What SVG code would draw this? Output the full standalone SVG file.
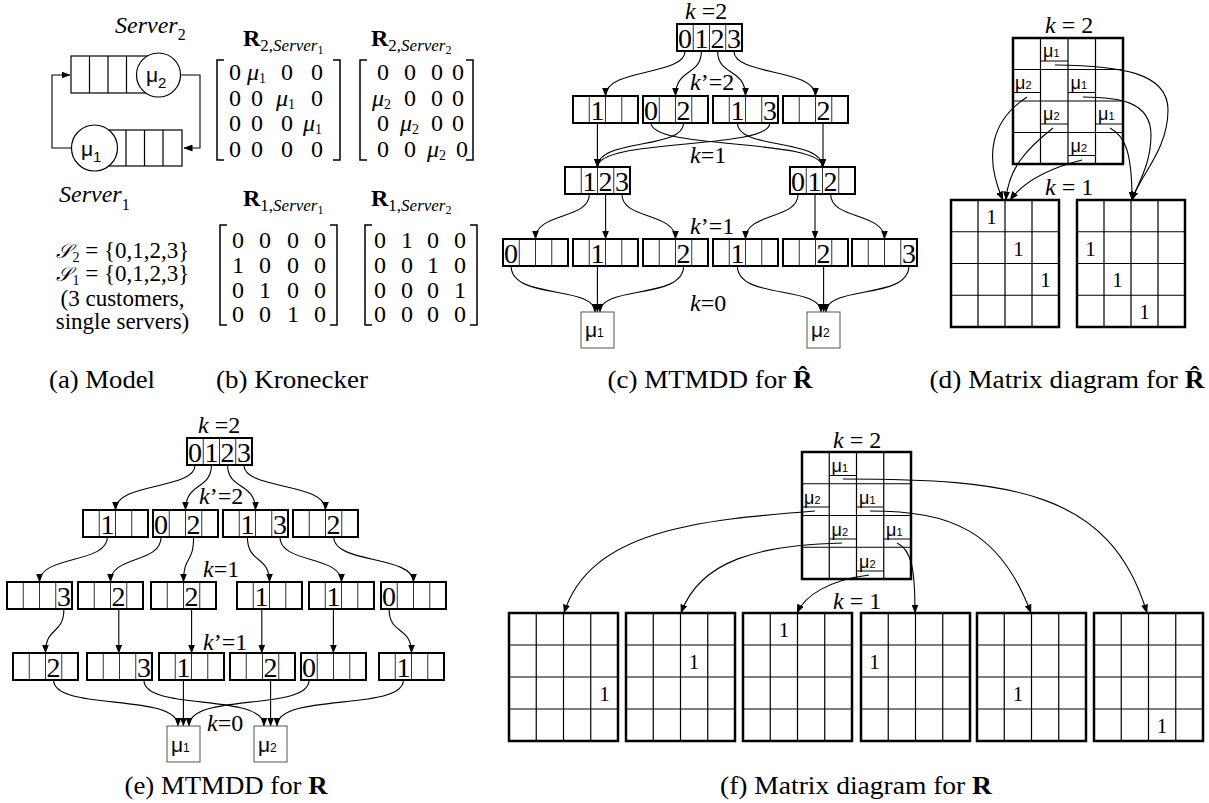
<svg xmlns="http://www.w3.org/2000/svg" width="1209" height="803" viewBox="0 0 1209 803">
<defs>
<marker id="ah" markerWidth="9" markerHeight="7" refX="8.5" refY="3.5" orient="auto" markerUnits="userSpaceOnUse"><path d="M0,0 L9,3.5 L0,7 z" fill="#000"/></marker>
<style>
.t{font-family:"Liberation Serif",serif;fill:#000}
.i{font-style:italic}
.b{font-weight:bold}
.nd{fill:#fff;stroke:#000;stroke-width:2}
.dv{stroke:#333;stroke-width:1}
.dg{font-family:"Liberation Serif",serif;font-size:28px;text-anchor:middle}
.e{fill:none;stroke:#000;stroke-width:1.1;marker-end:url(#ah)}
.ln{fill:none;stroke:#000;stroke-width:1.1}
.lf{fill:#fff;stroke:#555;stroke-width:1}
.mu{font-family:"Liberation Sans",sans-serif;font-size:21px}
.mus{font-size:12px}
.mc{font-family:"Liberation Sans",sans-serif;font-size:18px}
.mcs{font-size:11px}
.kl{font-family:"Liberation Serif",serif;font-size:24px}
.mx{fill:none;stroke:#000;stroke-width:2.5}
.mg{stroke:#000;stroke-width:1.2}
.ul{stroke:#000;stroke-width:1}
.one{font-family:"Liberation Serif",serif;font-size:21px;text-anchor:middle}
.cap{font-family:"Liberation Serif",serif;font-size:25px;text-anchor:middle}
.br{fill:none;stroke:#000;stroke-width:1.5}
.me{font-family:"Liberation Serif",serif;font-size:24px;text-anchor:middle}
.ms{font-family:"Liberation Serif",serif;font-size:24px}
.q{fill:#fff;stroke:#000;stroke-width:1.2}
</style>
</defs>
<rect width="1209" height="803" fill="#fff"/>

<!-- (a) Model -->
<g id="a-server2-label"><text class="t i" x="115" y="33" font-size="24">Server<tspan font-style="normal" font-size="16" dy="7">2</tspan></text></g>
<g id="a-queue2">
<rect class="q" x="71" y="56" width="80" height="37"/>
<path class="q" d="M89.5,56V93M108,56V93M126.5,56V93"/>
<circle class="q" cx="158.5" cy="75" r="22"/>
<text class="mu" x="146" y="82" font-size="25">μ<tspan font-size="15" dy="6">2</tspan></text>
</g>
<g id="a-queue1">
<rect class="q" x="102" y="130" width="80" height="36"/>
<path class="q" d="M126,130V166M144.5,130V166M163,130V166"/>
<circle class="q" cx="94.5" cy="148" r="23"/>
<text class="mu" x="81" y="156" font-size="25">μ<tspan font-size="15" dy="6">1</tspan></text>
</g>
<g id="a-server1-label"><text class="t i" x="59" y="202" font-size="24">Server<tspan font-style="normal" font-size="16" dy="8">1</tspan></text></g>
<g id="a-connectors">
<path class="ln" d="M180.5,75H200V148H184" marker-end="url(#ah)"/>
<path class="ln" d="M71.5,148H52V75H70" marker-end="url(#ah)"/>
</g>
<g id="a-text">
<text class="t" x="122.5" y="258" font-size="23" text-anchor="middle"><tspan font-family="DejaVu Serif,serif" font-style="italic" font-size="20">𝒮</tspan><tspan font-size="14" dx="2" dy="4">2</tspan><tspan dy="-4"> = {0,1,2,3}</tspan></text>
<text class="t" x="122.5" y="281" font-size="23" text-anchor="middle"><tspan font-family="DejaVu Serif,serif" font-style="italic" font-size="20">𝒮</tspan><tspan font-size="14" dx="2" dy="4">1</tspan><tspan dy="-4"> = {0,1,2,3}</tspan></text>
<text class="t" x="122.5" y="306" font-size="23" text-anchor="middle">(3 customers,</text>
<text class="t" x="122.5" y="329" font-size="23" text-anchor="middle">single servers)</text>
</g>

<!-- (b) Kronecker -->
<g id="b-labels">
<text class="t" x="243" y="46"><tspan class="b" font-size="24">R</tspan><tspan font-size="17" dy="5">2,</tspan><tspan class="i" font-size="17">Server</tspan><tspan font-size="12" dy="3">1</tspan></text>
<text class="t" x="371" y="46"><tspan class="b" font-size="24">R</tspan><tspan font-size="17" dy="5">2,</tspan><tspan class="i" font-size="17">Server</tspan><tspan font-size="12" dy="3">2</tspan></text>
<text class="t" x="243" y="206"><tspan class="b" font-size="24">R</tspan><tspan font-size="17" dy="5">1,</tspan><tspan class="i" font-size="17">Server</tspan><tspan font-size="12" dy="3">1</tspan></text>
<text class="t" x="371" y="206"><tspan class="b" font-size="24">R</tspan><tspan font-size="17" dy="5">1,</tspan><tspan class="i" font-size="17">Server</tspan><tspan font-size="12" dy="3">2</tspan></text>
</g>
<g id="b-matrix-R2-S1">
<path class="br" d="M224,60H217V160H224M333,60H340V160H333"/>
<text class="me" y="80"><tspan x="235">0</tspan><tspan x="287">0</tspan><tspan x="317">0</tspan></text>
<text class="ms" x="247" y="80"><tspan class="i">μ</tspan><tspan font-size="14" dy="3">1</tspan></text>
<text class="me" y="105.5"><tspan x="235">0</tspan><tspan x="257">0</tspan><tspan x="317">0</tspan></text>
<text class="ms" x="276" y="105.5"><tspan class="i">μ</tspan><tspan font-size="14" dy="3">1</tspan></text>
<text class="me" y="131"><tspan x="235">0</tspan><tspan x="257">0</tspan><tspan x="287">0</tspan></text>
<text class="ms" x="303" y="131"><tspan class="i">μ</tspan><tspan font-size="14" dy="3">1</tspan></text>
<text class="me" y="156.5"><tspan x="235">0</tspan><tspan x="257">0</tspan><tspan x="287">0</tspan><tspan x="317">0</tspan></text>
</g>
<g id="b-matrix-R2-S2">
<path class="br" d="M367,60H360V160H367M466,60H473V160H466"/>
<text class="me" y="80"><tspan x="383">0</tspan><tspan x="410">0</tspan><tspan x="437">0</tspan><tspan x="458">0</tspan></text>
<text class="ms" x="372" y="105.5"><tspan class="i">μ</tspan><tspan font-size="14" dy="3">2</tspan></text>
<text class="me" y="105.5"><tspan x="410">0</tspan><tspan x="437">0</tspan><tspan x="458">0</tspan></text>
<text class="me" y="131"><tspan x="383">0</tspan><tspan x="437">0</tspan><tspan x="458">0</tspan></text>
<text class="ms" x="400" y="131"><tspan class="i">μ</tspan><tspan font-size="14" dy="3">2</tspan></text>
<text class="me" y="156.5"><tspan x="383">0</tspan><tspan x="410">0</tspan><tspan x="462">0</tspan></text>
<text class="ms" x="427" y="156.5"><tspan class="i">μ</tspan><tspan font-size="14" dy="3">2</tspan></text>
</g>
<g id="b-matrix-R1-S1">
<path class="br" d="M227,225H220V325H227M330,225H337V325H330"/>
<text class="me" y="248"><tspan x="238">0</tspan><tspan x="265">0</tspan><tspan x="293">0</tspan><tspan x="320">0</tspan></text>
<text class="me" y="273"><tspan x="238">1</tspan><tspan x="265">0</tspan><tspan x="293">0</tspan><tspan x="320">0</tspan></text>
<text class="me" y="297.5"><tspan x="238">0</tspan><tspan x="265">1</tspan><tspan x="293">0</tspan><tspan x="320">0</tspan></text>
<text class="me" y="322"><tspan x="238">0</tspan><tspan x="265">0</tspan><tspan x="293">1</tspan><tspan x="320">0</tspan></text>
</g>
<g id="b-matrix-R1-S2">
<path class="br" d="M372,225H365V325H372M470,225H477V325H470"/>
<text class="me" y="248"><tspan x="380">0</tspan><tspan x="407">1</tspan><tspan x="433">0</tspan><tspan x="460">0</tspan></text>
<text class="me" y="273"><tspan x="380">0</tspan><tspan x="407">0</tspan><tspan x="433">1</tspan><tspan x="460">0</tspan></text>
<text class="me" y="297.5"><tspan x="380">0</tspan><tspan x="407">0</tspan><tspan x="433">0</tspan><tspan x="460">1</tspan></text>
<text class="me" y="322"><tspan x="380">0</tspan><tspan x="407">0</tspan><tspan x="433">0</tspan><tspan x="460">0</tspan></text>
</g>

<!-- (c) MTMDD for R-hat -->
<g id="c-connectors">
<path class="e" d="M685.1,51C685.1,76 605.5,68 605.5,96"/>
<path class="e" d="M701.4,51C701.4,76 675.5,68 675.5,96"/>
<path class="e" d="M717.6,51C717.6,76 745.5,68 745.5,96"/>
<path class="e" d="M733.9,51C733.9,76 815.5,68 815.5,96"/>
<path class="e" d="M597.4,123L597.4,167"/>
<path class="e" d="M651.1,123C651.1,150 822.5,138 822.5,167"/>
<path class="e" d="M683.6,123C683.6,150 597.5,138 597.5,167"/>
<path class="e" d="M737.4,123C737.4,150 822.5,138 822.5,167"/>
<path class="e" d="M769.9,123C769.9,150 597.5,138 597.5,167"/>
<path class="e" d="M823,123L823,167"/>
<path class="e" d="M589.4,194C589.4,220 535.5,212 535.5,239"/>
<path class="e" d="M605.6,194L605.6,239"/>
<path class="e" d="M621.9,194C621.9,220 675.5,212 675.5,239"/>
<path class="e" d="M798.1,194C798.1,220 745.5,212 745.5,239"/>
<path class="e" d="M815,194L815,239"/>
<path class="e" d="M830.6,194C830.6,220 884.5,212 884.5,239"/>
<path class="e" d="M511.1,266C511.1,300 595,285 595,312"/>
<path class="e" d="M597.4,266L597.4,312"/>
<path class="e" d="M683.6,266C683.6,300 600,285 600,312"/>
<path class="e" d="M737.4,266C737.4,300 821,285 821,312"/>
<path class="e" d="M823.6,266L823.6,312"/>
<path class="e" d="M908.9,266C908.9,300 826,285 826,312"/>
</g>
<g id="c-labels">
<text class="kl" x="685" y="19"><tspan class="i">k</tspan> =2</text>
<text class="kl" x="690" y="90"><tspan class="i">k</tspan>’=2</text>
<text class="kl" x="690" y="163"><tspan class="i">k</tspan>=1</text>
<text class="kl" x="690" y="234"><tspan class="i">k</tspan>’=1</text>
<text class="kl" x="690" y="311"><tspan class="i">k</tspan>=0</text>
</g>
<g id="c-n-top"><rect class="nd" x="677" y="24" width="65" height="27"/><path class="dv" d="M693.25,25v25M709.5,25v25M725.75,25v25"/><text class="dg" y="48"><tspan x="685.1">0</tspan><tspan x="701.4">1</tspan><tspan x="717.6">2</tspan><tspan x="733.9">3</tspan></text></g>
<g id="c-n-a"><rect class="nd" x="573" y="96" width="65" height="27"/><path class="dv" d="M589.25,97v25M605.5,97v25M621.75,97v25"/><text class="dg" y="120"><tspan x="597.4">1</tspan></text></g>
<g id="c-n-b"><rect class="nd" x="643" y="96" width="65" height="27"/><path class="dv" d="M659.25,97v25M675.5,97v25M691.75,97v25"/><text class="dg" y="120"><tspan x="651.1">0</tspan><tspan x="683.6">2</tspan></text></g>
<g id="c-n-c"><rect class="nd" x="713" y="96" width="65" height="27"/><path class="dv" d="M729.25,97v25M745.5,97v25M761.75,97v25"/><text class="dg" y="120"><tspan x="737.4">1</tspan><tspan x="769.9">3</tspan></text></g>
<g id="c-n-d"><rect class="nd" x="783" y="96" width="65" height="27"/><path class="dv" d="M799.25,97v25M815.5,97v25M831.75,97v25"/><text class="dg" y="120"><tspan x="823.6">2</tspan></text></g>
<g id="c-n-e"><rect class="nd" x="565" y="167" width="65" height="27"/><path class="dv" d="M581.25,168v25M597.5,168v25M613.75,168v25"/><text class="dg" y="191"><tspan x="589.4">1</tspan><tspan x="605.6">2</tspan><tspan x="621.9">3</tspan></text></g>
<g id="c-n-f"><rect class="nd" x="790" y="167" width="65" height="27"/><path class="dv" d="M806.25,168v25M822.5,168v25M838.75,168v25"/><text class="dg" y="191"><tspan x="798.1">0</tspan><tspan x="814.4">1</tspan><tspan x="830.6">2</tspan></text></g>
<g id="c-n-g"><rect class="nd" x="503" y="239" width="65" height="27"/><path class="dv" d="M519.25,240v25M535.5,240v25M551.75,240v25"/><text class="dg" y="263"><tspan x="511.1">0</tspan></text></g>
<g id="c-n-h"><rect class="nd" x="573" y="239" width="65" height="27"/><path class="dv" d="M589.25,240v25M605.5,240v25M621.75,240v25"/><text class="dg" y="263"><tspan x="597.4">1</tspan></text></g>
<g id="c-n-i"><rect class="nd" x="643" y="239" width="65" height="27"/><path class="dv" d="M659.25,240v25M675.5,240v25M691.75,240v25"/><text class="dg" y="263"><tspan x="683.6">2</tspan></text></g>
<g id="c-n-j"><rect class="nd" x="713" y="239" width="65" height="27"/><path class="dv" d="M729.25,240v25M745.5,240v25M761.75,240v25"/><text class="dg" y="263"><tspan x="737.4">1</tspan></text></g>
<g id="c-n-k"><rect class="nd" x="783" y="239" width="65" height="27"/><path class="dv" d="M799.25,240v25M815.5,240v25M831.75,240v25"/><text class="dg" y="263"><tspan x="823.6">2</tspan></text></g>
<g id="c-n-l"><rect class="nd" x="852" y="239" width="65" height="27"/><path class="dv" d="M868.25,240v25M884.5,240v25M900.75,240v25"/><text class="dg" y="263"><tspan x="908.9">3</tspan></text></g>
<g id="c-leaf-mu1"><rect class="lf" x="581" y="312" width="33" height="36"/><text class="mu" x="585" y="337">μ<tspan class="mus">1</tspan></text></g>
<g id="c-leaf-mu2"><rect class="lf" x="807" y="312" width="33" height="36"/><text class="mu" x="811" y="337">μ<tspan class="mus">2</tspan></text></g>

<!-- (d) Matrix diagram for R-hat -->
<g id="d-connectors">
<path class="e" d="M1055,65C1120,66 1168,72 1168,110C1168,150 1140,175 1132,200"/>
<path class="e" d="M1083,97C1120,97 1151,102 1151,135C1151,165 1137,185 1132,200"/>
<path class="e" d="M1110,128C1125,136 1132,152 1132,200"/>
<path class="e" d="M1027,97C992,120 983,155 1003,200"/>
<path class="e" d="M1053,128C1025,150 1008,170 1006,200"/>
<path class="e" d="M1082,160C1050,168 1025,180 1010,200"/>
</g>
<g id="d-labels">
<text class="kl" x="1045" y="33"><tspan class="i">k</tspan> = 2</text>
<text class="kl" x="1045" y="195"><tspan class="i">k</tspan> = 1</text>
</g>
<g id="d-top">
<path class="mg" d="M1040.5,38V164M1068,38V164M1095.5,38V164M1013,69.5H1123M1013,101H1123M1013,132.5H1123"/>
<path class="ul" d="M1040.5,61H1068M1013,92.5H1040.5M1068,92.5H1095.5M1040.5,124H1068M1095.5,124H1123M1068,155.5H1095.5"/>
<rect class="mx" x="1013" y="38" width="110" height="126"/>
<text class="mc" x="1043" y="57">μ<tspan class="mcs">1</tspan></text>
<text class="mc" x="1015" y="88.5">μ<tspan class="mcs">2</tspan></text>
<text class="mc" x="1070.5" y="88.5">μ<tspan class="mcs">1</tspan></text>
<text class="mc" x="1043" y="120">μ<tspan class="mcs">2</tspan></text>
<text class="mc" x="1098" y="120">μ<tspan class="mcs">1</tspan></text>
<text class="mc" x="1070.5" y="151.5">μ<tspan class="mcs">2</tspan></text>
</g>
<g id="d-left">
<path class="mg" d="M978,200V327M1005,200V327M1032,200V327M951,231.75H1059M951,263.5H1059M951,295.25H1059"/>
<rect class="mx" x="951" y="200" width="108" height="127"/>
<text class="one" x="991.5" y="224">1</text><text class="one" x="1018.5" y="256">1</text><text class="one" x="1045.5" y="287">1</text>
</g>
<g id="d-right">
<path class="mg" d="M1104,200V327M1131,200V327M1158,200V327M1077,231.75H1185M1077,263.5H1185M1077,295.25H1185"/>
<rect class="mx" x="1077" y="200" width="108" height="127"/>
<text class="one" x="1090.5" y="256">1</text><text class="one" x="1117.5" y="287">1</text><text class="one" x="1144.5" y="319">1</text>
</g>

<!-- (e) MTMDD for R -->
<g id="e-connectors">
<path class="e" d="M195.1,465C195.1,490 115.5,482 115.5,510"/>
<path class="e" d="M211.4,465C211.4,490 185.5,482 185.5,510"/>
<path class="e" d="M227.6,465C227.6,490 255.5,482 255.5,510"/>
<path class="e" d="M243.9,465C243.9,490 325.5,482 325.5,510"/>
<path class="e" d="M107.4,537C107.4,564 39.5,555 39.5,582"/>
<path class="e" d="M161.1,537C161.1,564 110.5,555 110.5,582"/>
<path class="e" d="M193.6,537C193.6,564 183.5,555 183.5,582"/>
<path class="e" d="M247.4,537C247.4,564 269.5,555 269.5,582"/>
<path class="e" d="M279.9,537C279.9,564 341.5,555 341.5,582"/>
<path class="e" d="M333.6,537C333.6,564 413.5,555 413.5,582"/>
<path class="e" d="M63.9,609C63.9,635 45.5,626 45.5,653"/>
<path class="e" d="M118.8,609L118.8,653"/>
<path class="e" d="M191.6,609L191.6,653"/>
<path class="e" d="M261.8,609L261.8,653"/>
<path class="e" d="M333.4,609L333.4,653"/>
<path class="e" d="M389.1,609C389.1,635 411.5,626 411.5,653"/>
<path class="e" d="M53.6,680C53.6,712 178,692 178,726"/>
<path class="e" d="M143.9,680C143.9,712 264,692 264,726"/>
<path class="e" d="M183.4,680L183.4,726"/>
<path class="e" d="M270.6,680L270.6,726"/>
<path class="e" d="M309.1,680C309.1,712 189,692 189,726"/>
<path class="e" d="M403.4,680C403.4,712 277,692 277,726"/>
</g>
<g id="e-labels">
<text class="kl" x="198" y="433"><tspan class="i">k</tspan> =2</text>
<text class="kl" x="199" y="504"><tspan class="i">k</tspan>’=2</text>
<text class="kl" x="203" y="577"><tspan class="i">k</tspan>=1</text>
<text class="kl" x="203" y="650"><tspan class="i">k</tspan>’=1</text>
<text class="kl" x="207" y="731"><tspan class="i">k</tspan>=0</text>
</g>
<g id="e-n-top"><rect class="nd" x="187" y="438" width="65" height="27"/><path class="dv" d="M203.25,439v25M219.5,439v25M235.75,439v25"/><text class="dg" y="462"><tspan x="195.1">0</tspan><tspan x="211.4">1</tspan><tspan x="227.6">2</tspan><tspan x="243.9">3</tspan></text></g>
<g id="e-n-a"><rect class="nd" x="83" y="510" width="65" height="27"/><path class="dv" d="M99.25,511v25M115.5,511v25M131.75,511v25"/><text class="dg" y="534"><tspan x="107.4">1</tspan></text></g>
<g id="e-n-b"><rect class="nd" x="153" y="510" width="65" height="27"/><path class="dv" d="M169.25,511v25M185.5,511v25M201.75,511v25"/><text class="dg" y="534"><tspan x="161.1">0</tspan><tspan x="193.6">2</tspan></text></g>
<g id="e-n-c"><rect class="nd" x="223" y="510" width="65" height="27"/><path class="dv" d="M239.25,511v25M255.5,511v25M271.75,511v25"/><text class="dg" y="534"><tspan x="247.4">1</tspan><tspan x="279.9">3</tspan></text></g>
<g id="e-n-d"><rect class="nd" x="293" y="510" width="65" height="27"/><path class="dv" d="M309.25,511v25M325.5,511v25M341.75,511v25"/><text class="dg" y="534"><tspan x="333.6">2</tspan></text></g>
<g id="e-n-1a"><rect class="nd" x="7" y="582" width="65" height="27"/><path class="dv" d="M23.25,583v25M39.5,583v25M55.75,583v25"/><text class="dg" y="606"><tspan x="63.9">3</tspan></text></g>
<g id="e-n-1b"><rect class="nd" x="78" y="582" width="65" height="27"/><path class="dv" d="M94.25,583v25M110.5,583v25M126.75,583v25"/><text class="dg" y="606"><tspan x="118.6">2</tspan></text></g>
<g id="e-n-1c"><rect class="nd" x="151" y="582" width="65" height="27"/><path class="dv" d="M167.25,583v25M183.5,583v25M199.75,583v25"/><text class="dg" y="606"><tspan x="191.6">2</tspan></text></g>
<g id="e-n-1d"><rect class="nd" x="237" y="582" width="65" height="27"/><path class="dv" d="M253.25,583v25M269.5,583v25M285.75,583v25"/><text class="dg" y="606"><tspan x="261.4">1</tspan></text></g>
<g id="e-n-1e"><rect class="nd" x="309" y="582" width="65" height="27"/><path class="dv" d="M325.25,583v25M341.5,583v25M357.75,583v25"/><text class="dg" y="606"><tspan x="333.4">1</tspan></text></g>
<g id="e-n-1f"><rect class="nd" x="381" y="582" width="65" height="27"/><path class="dv" d="M397.25,583v25M413.5,583v25M429.75,583v25"/><text class="dg" y="606"><tspan x="389.1">0</tspan></text></g>
<g id="e-n-2a"><rect class="nd" x="13" y="653" width="65" height="27"/><path class="dv" d="M29.25,654v25M45.5,654v25M61.75,654v25"/><text class="dg" y="677"><tspan x="53.6">2</tspan></text></g>
<g id="e-n-2b"><rect class="nd" x="87" y="653" width="65" height="27"/><path class="dv" d="M103.25,654v25M119.5,654v25M135.75,654v25"/><text class="dg" y="677"><tspan x="143.9">3</tspan></text></g>
<g id="e-n-2c"><rect class="nd" x="159" y="653" width="65" height="27"/><path class="dv" d="M175.25,654v25M191.5,654v25M207.75,654v25"/><text class="dg" y="677"><tspan x="183.4">1</tspan></text></g>
<g id="e-n-2d"><rect class="nd" x="230" y="653" width="65" height="27"/><path class="dv" d="M246.25,654v25M262.5,654v25M278.75,654v25"/><text class="dg" y="677"><tspan x="270.6">2</tspan></text></g>
<g id="e-n-2e"><rect class="nd" x="301" y="653" width="65" height="27"/><path class="dv" d="M317.25,654v25M333.5,654v25M349.75,654v25"/><text class="dg" y="677"><tspan x="309.1">0</tspan></text></g>
<g id="e-n-2f"><rect class="nd" x="379" y="653" width="65" height="27"/><path class="dv" d="M395.25,654v25M411.5,654v25M427.75,654v25"/><text class="dg" y="677"><tspan x="403.4">1</tspan></text></g>
<g id="e-leaf-mu1"><rect class="lf" x="167" y="726" width="33" height="36"/><text class="mu" x="171" y="752">μ<tspan class="mus">1</tspan></text></g>
<g id="e-leaf-mu2"><rect class="lf" x="254" y="726" width="33" height="36"/><text class="mu" x="258" y="752">μ<tspan class="mus">2</tspan></text></g>

<!-- (f) Matrix diagram for R -->
<g id="f-connectors">
<path class="e" d="M843,479C1010,479 1110,490 1147,613"/>
<path class="e" d="M870,511C950,511 1000,530 1031,613"/>
<path class="e" d="M897,543C912,550 915,570 915,613"/>
<path class="e" d="M815,511C700,520 590,530 564,613"/>
<path class="e" d="M842,543C760,545 700,560 681,613"/>
<path class="e" d="M869,575C830,580 805,595 797,613"/>
</g>
<g id="f-labels">
<text class="kl" x="833" y="448"><tspan class="i">k</tspan> = 2</text>
<text class="kl" x="833" y="609"><tspan class="i">k</tspan> = 1</text>
</g>
<g id="f-top">
<path class="mg" d="M829.25,452V579M856.5,452V579M883.75,452V579M802,483.75H911M802,515.5H911M802,547.25H911"/>
<path class="ul" d="M829.25,475.5H856.5M802,507H829.25M856.5,507H883.75M829.25,539H856.5M883.75,539H911M856.5,571H883.75"/>
<rect class="mx" x="802" y="452" width="109" height="127"/>
<text class="mc" x="831.5" y="472">μ<tspan class="mcs">1</tspan></text>
<text class="mc" x="804" y="503.5">μ<tspan class="mcs">2</tspan></text>
<text class="mc" x="859" y="503.5">μ<tspan class="mcs">1</tspan></text>
<text class="mc" x="831.5" y="535.5">μ<tspan class="mcs">2</tspan></text>
<text class="mc" x="886" y="535.5">μ<tspan class="mcs">1</tspan></text>
<text class="mc" x="859" y="567.5">μ<tspan class="mcs">2</tspan></text>
</g>
<g id="f-m1"><path class="mg" d="M536.25,613V741M563.5,613V741M590.75,613V741M509,645H618M509,677H618M509,709H618"/><rect class="mx" x="509" y="613" width="109" height="128"/><text class="one" x="604.4" y="701">1</text></g>
<g id="f-m2"><path class="mg" d="M653.25,613V741M680.5,613V741M707.75,613V741M626,645H735M626,677H735M626,709H735"/><rect class="mx" x="626" y="613" width="109" height="128"/><text class="one" x="694.1" y="669">1</text></g>
<g id="f-m3"><path class="mg" d="M770.25,613V741M797.5,613V741M824.75,613V741M743,645H852M743,677H852M743,709H852"/><rect class="mx" x="743" y="613" width="109" height="128"/><text class="one" x="783.9" y="637">1</text></g>
<g id="f-m4"><path class="mg" d="M888.25,613V741M915.5,613V741M942.75,613V741M861,645H970M861,677H970M861,709H970"/><rect class="mx" x="861" y="613" width="109" height="128"/><text class="one" x="874.6" y="669">1</text></g>
<g id="f-m5"><path class="mg" d="M1004.25,613V741M1031.5,613V741M1058.75,613V741M977,645H1086M977,677H1086M977,709H1086"/><rect class="mx" x="977" y="613" width="109" height="128"/><text class="one" x="1017.9" y="701">1</text></g>
<g id="f-m6"><path class="mg" d="M1121.25,613V741M1148.5,613V741M1175.75,613V741M1094,645H1203M1094,677H1203M1094,709H1203"/><rect class="mx" x="1094" y="613" width="109" height="128"/><text class="one" x="1162.1" y="733">1</text></g>

<!-- captions -->
<g id="captions">
<text class="cap" x="102" y="388" textLength="106" lengthAdjust="spacingAndGlyphs">(a) Model</text>
<text class="cap" x="292" y="388" textLength="152" lengthAdjust="spacingAndGlyphs">(b) Kronecker</text>
<text class="cap" x="710" y="388" textLength="205" lengthAdjust="spacingAndGlyphs">(c) MTMDD for <tspan class="b">R̂</tspan></text>
<text class="cap" x="1067" y="388" textLength="275" lengthAdjust="spacingAndGlyphs">(d) Matrix diagram for <tspan class="b">R̂</tspan></text>
<text class="cap" x="226" y="794" textLength="203" lengthAdjust="spacingAndGlyphs">(e) MTMDD for <tspan class="b">R</tspan></text>
<text class="cap" x="856" y="794" textLength="272" lengthAdjust="spacingAndGlyphs">(f) Matrix diagram for <tspan class="b">R</tspan></text>
</g>
</svg>
